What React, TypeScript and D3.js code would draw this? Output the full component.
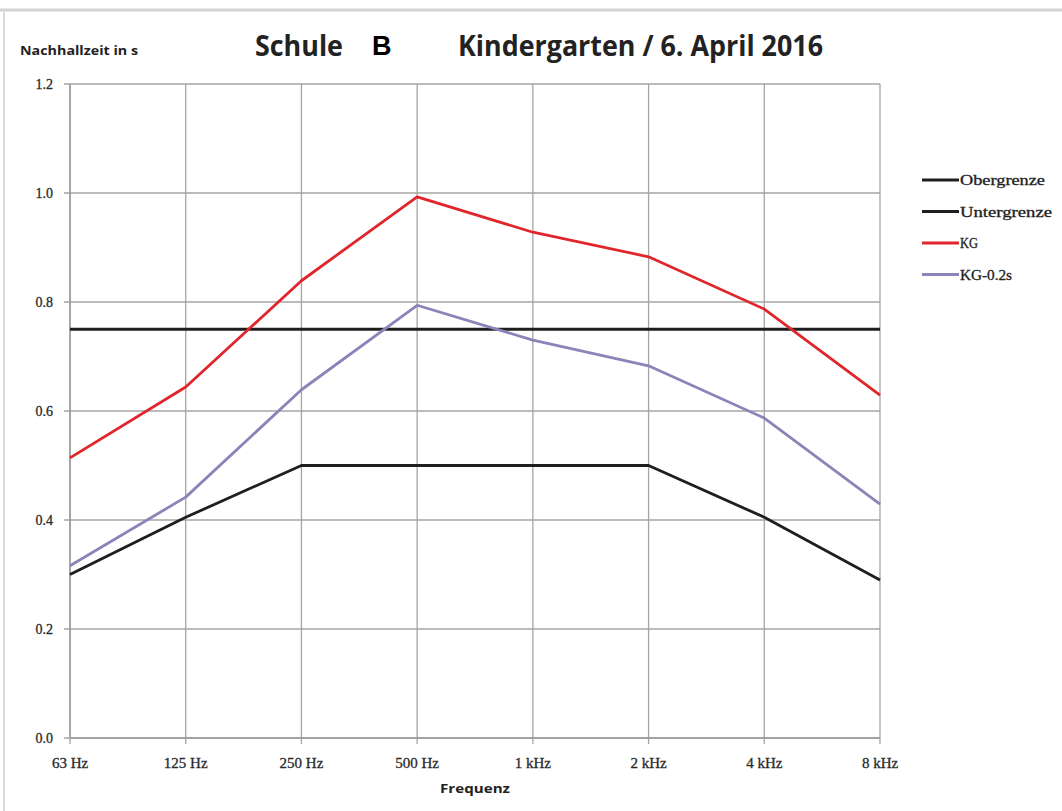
import React from "react";
import * as d3 from "d3";

const categories = ["63 Hz", "125 Hz", "250 Hz", "500 Hz", "1 kHz", "2 kHz", "4 kHz", "8 kHz"];
const obergrenze = [0.75, 0.75, 0.75, 0.75, 0.75, 0.75, 0.75, 0.75];
const untergrenze = [0.3, 0.405, 0.5, 0.5, 0.5, 0.5, 0.405, 0.29];
const kg = [0.514, 0.644, 0.839, 0.993, 0.928, 0.883, 0.787, 0.629];
const kg02 = [0.316, 0.442, 0.639, 0.794, 0.73, 0.683, 0.587, 0.429];
const yTicks = [0, 0.2, 0.4, 0.6, 0.8, 1.0, 1.2];

const seriesNames = ["Obergrenze", "Untergrenze", "KG", "KG-0.2s"];
const seriesColors = ["#1e1e1e", "#1e1e1e", "#e0262c", "#8f82b8"];
const seriesData = [obergrenze, untergrenze, kg, kg02];
const legendWidths = [85, 92, 18, 52];

export default function App() {
  const W = 1062, H = 811;
  const left = 70, right = 880, top = 84, bottom = 738;
  const x = d3.scalePoint<string>().domain(categories).range([left, right]);
  const y = d3.scaleLinear().domain([0, 1.2]).range([bottom, top]);
  const line = d3.line<number>().x((_, i) => x(categories[i]) as number).y((d) => y(d));
  const serif = "'Liberation Serif', 'DejaVu Serif', serif";
  const narrow = "'Open Sans', 'Roboto', sans-serif";

  return (
    <svg width={W} height={H} style={{ position: "absolute", left: 0, top: 0, background: "#fff" }}>
      <rect x={0} y={0} width={W} height={H} fill="#fff" />
      {/* frame */}
      <line x1={0} x2={W} y1={10} y2={10} stroke="#d4d4d4" strokeWidth={3} />
      <line x1={4} x2={4} y1={10} y2={H} stroke="#dadada" strokeWidth={2} />

      {/* grid */}
      {yTicks.map((t) => (
        <g key={"y" + t}>
          <line x1={left - 6} x2={right} y1={y(t)} y2={y(t)} stroke="#a4a4a4" strokeWidth={1.3} />
          <text x={53} y={y(t) + 5} textAnchor="end" fontFamily={serif} fontSize={14} fill="#2a2a2a" stroke="#2a2a2a" strokeWidth={0.3}>
            {t.toFixed(1)}
          </text>
        </g>
      ))}
      {categories.map((c) => (
        <g key={c}>
          <line x1={x(c)} x2={x(c)} y1={top} y2={bottom + 6} stroke="#a4a4a4" strokeWidth={1.3} />
          <text x={x(c)} y={768} textAnchor="middle" fontFamily={serif} fontSize={15} fill="#2a2a2a" stroke="#2a2a2a" strokeWidth={0.3}>
            {c}
          </text>
        </g>
      ))}
      <line x1={left} x2={left} y1={top} y2={bottom} stroke="#9a9a9a" strokeWidth={1.4} />
      <line x1={left} x2={right} y1={bottom} y2={bottom} stroke="#9a9a9a" strokeWidth={1.4} />

      {/* series */}
      {seriesData.map((s, i) => (
        <path key={seriesNames[i]} d={line(s) || ""} fill="none" stroke={seriesColors[i]} strokeWidth={2.8} strokeLinejoin="round" />
      ))}

      {/* legend */}
      {seriesNames.map((n, i) => (
        <g key={"lg" + n} transform={`translate(922, ${180 + i * 31.5})`}>
          <line x1={0} x2={37} y1={0} y2={0} stroke={seriesColors[i]} strokeWidth={2.8} />
          <text x={38} y={5} fontFamily={serif} fontSize={14} fill="#222" stroke="#222" strokeWidth={0.3} textLength={legendWidths[i]} lengthAdjust="spacingAndGlyphs">
            {n}
          </text>
        </g>
      ))}

      {/* titles */}
      <text x={255} y={56} fontFamily={narrow} fontWeight="bold" fontSize={29} fill="#222" textLength={88} lengthAdjust="spacingAndGlyphs">
        Schule
      </text>
      <text x={372} y={55} fontFamily="'Liberation Sans', Arial, sans-serif" fontWeight="bold" fontSize={27} fill="#000">
        B
      </text>
      <text x={458} y={56} fontFamily={narrow} fontWeight="bold" fontSize={29} fill="#222" textLength={365} lengthAdjust="spacingAndGlyphs">
        Kindergarten / 6. April 2016
      </text>
      <text x={20} y={55} fontFamily={narrow} fontWeight="bold" fontSize={12} fill="#222" textLength={118} lengthAdjust="spacingAndGlyphs">
        Nachhallzeit in s
      </text>
      <text x={475} y={793} textAnchor="middle" fontFamily={narrow} fontWeight="bold" fontSize={13} fill="#222" textLength={70} lengthAdjust="spacingAndGlyphs">
        Frequenz
      </text>
    </svg>
  );
}
